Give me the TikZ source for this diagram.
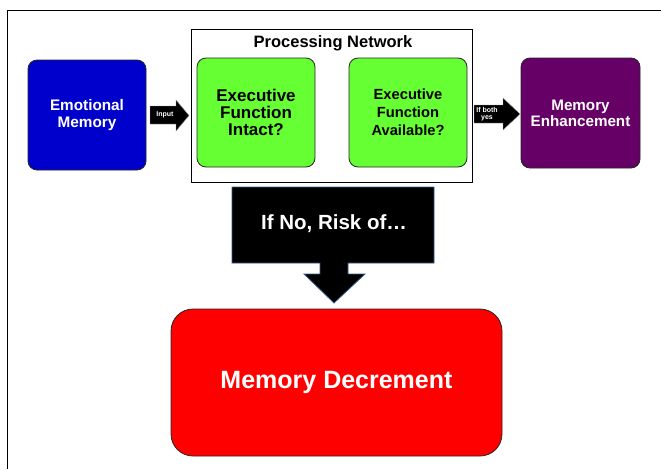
\documentclass[tikz,border=0pt]{standalone}
\usepackage{fontspec}
\setmainfont{Liberation Sans}
\begin{document}
\begin{tikzpicture}[x=1pt,y=-1pt,
  box/.style={draw=black!85, line width=0.8pt, rounded corners=9pt, inner sep=0pt, align=center, font=\bfseries},
  bigarrow/.style={fill=black, draw=white!60!black, line width=0.4pt}
]
\useasboundingbox (0,0) rectangle (661,469);
\fill[white] (0,0) rectangle (661,469);
% outer frame
\draw[line width=0.8pt] (7,469) -- (7,10) -- (661,10);
% processing network
\node[draw=black, line width=1pt, minimum width=281pt, minimum height=153pt, inner sep=0pt] (pn) at (331.5,105.5) {};
\node[font=\bfseries\fontsize{16.5}{18}\selectfont] (pnt) at (333,43) {Processing Network};
% boxes
\node[box, fill={rgb,255:red,0;green,0;blue,204}, text=white, minimum width=118pt, minimum height=110pt, font=\bfseries\fontsize{15.3}{17}\selectfont] (em) at (87,115) {Emotional\\Memory};
\node[box, fill={rgb,255:red,102;green,255;blue,51}, minimum width=118pt, minimum height=109pt, font=\bfseries\fontsize{17}{17}\selectfont] (ei) at (256,112.5) {Executive\\Function\\Intact?};
\node[box, fill={rgb,255:red,102;green,255;blue,51}, minimum width=118pt, minimum height=109pt, font=\bfseries\fontsize{14.7}{18}\selectfont] (ea) at (408,112.5) {Executive\\Function\\Available?};
\node[box, fill={rgb,255:red,102;green,0;blue,102}, text=white, minimum width=119pt, minimum height=110pt, font=\bfseries\fontsize{15.2}{16}\selectfont] (me) at (580.5,113) {Memory\\Enhancement};
\node[box, fill={rgb,255:red,255;green,0;blue,0}, text=white, rounded corners=22pt, minimum width=331pt, minimum height=147pt, font=\bfseries\fontsize{25}{28}\selectfont] (md) at (336.5,382.5) {Memory Decrement};
% input arrow
\draw[bigarrow] (150,106) -- (176,106) -- (176,100) -- (189,115.5) -- (176,131) -- (176,124) -- (150,124) -- cycle;
\node[text=white, font=\bfseries\fontsize{7}{7}\selectfont, inner sep=0pt] (inp) at (165,115) {Input};
% if both yes arrow
\draw[bigarrow] (474,105) -- (503,105) -- (503,98) -- (520,114) -- (503,130) -- (503,123) -- (474,123) -- cycle;
\node[text=white, font=\bfseries\fontsize{7}{7.5}\selectfont, align=center, inner sep=0pt] (iby) at (487,114) {If both\\yes};
% callout
\draw[fill=black, draw={rgb,255:red,56;green,93;blue,138}, line width=0.8pt]
  (232,187) -- (434,187) -- (434,263) -- (348,263) -- (348,274) -- (365,274) -- (334,303)
  -- (304,274) -- (320,274) -- (320,263) -- (232,263) -- cycle;
\node[text=white, font=\bfseries\fontsize{20.5}{24}\selectfont] (risk) at (334,224) {If No, Risk of…};
\end{tikzpicture}
\end{document}
